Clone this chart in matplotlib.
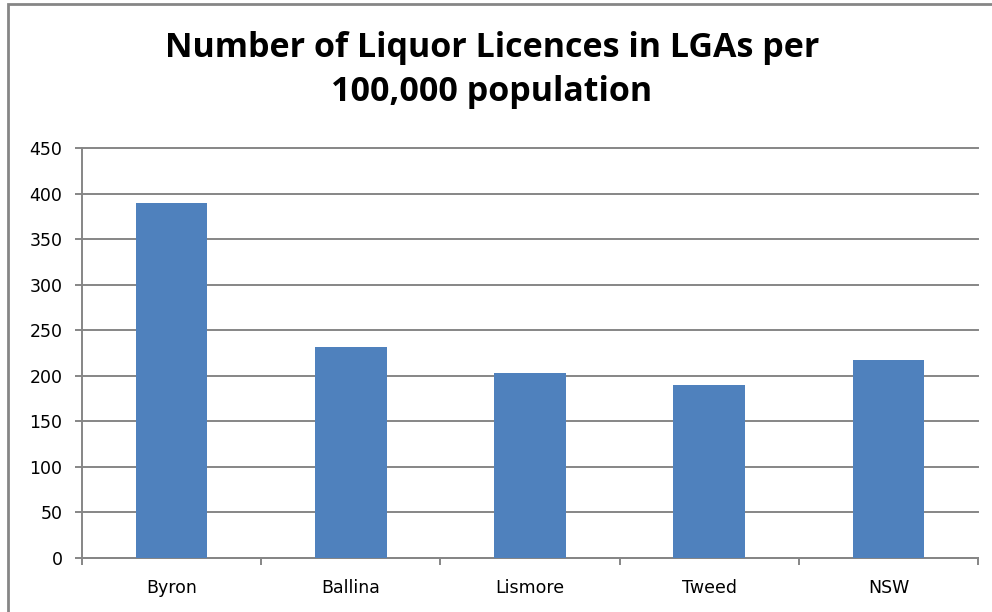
import matplotlib
matplotlib.use("Agg")
import matplotlib.pyplot as plt
from matplotlib.patches import Rectangle

# licences per 100,000 population by LGA
areas = ["Byron", "Ballina", "Lismore", "Tweed", "NSW"]
licences = [390, 232, 203, 190, 217]
yticks = [0, 50, 100, 150, 200, 250, 300, 350, 400, 450]

W, H = 992, 612
fig = plt.figure(figsize=(W / 100, H / 100), dpi=100)
ax = fig.add_axes([82 / W, 1 - 558 / H, (978 - 82) / W, (558 - 148) / H])

grey = "#868686"
pos = range(len(areas))
ax.bar(pos, licences, width=0.4, color="#4F81BD", zorder=3)

ax.set_xlim(-0.5, len(areas) - 0.5)
ax.set_ylim(0, 450)
ax.set_yticks(yticks)
ax.yaxis.grid(True, color=grey, linewidth=1.4, zorder=0)
for gl in ax.get_ygridlines():
    gl.set_clip_on(False)

# category labels in the middle, tick marks on the boundaries
ax.set_xticks(list(pos))
ax.set_xticklabels(areas)
ax.set_xticks([i - 0.5 for i in range(len(areas) + 1)], minor=True)
ax.tick_params(axis="x", which="major", length=0, pad=15, labelsize=12.5)
ax.tick_params(axis="x", which="minor", length=5, width=1.4, color=grey, direction="out")
ax.tick_params(axis="y", length=5, width=1.4, color=grey, pad=9, labelsize=12.5)

for side in ["top", "right"]:
    ax.spines[side].set_visible(False)
for side in ["left", "bottom"]:
    ax.spines[side].set_color(grey)
    ax.spines[side].set_linewidth(1.4)

fig.text(0.496, 1 - 70 / H, "Number of Liquor Licences in LGAs per\n100,000 population",
         ha="center", va="center", fontsize=24.5, fontweight="bold",
         family="Open Sans", linespacing=1.42)

# outer chart border
fig.patches.append(Rectangle((8 / W, -0.1), 1.2, 1 - 3.5 / H + 0.1,
                             transform=fig.transFigure, fill=False,
                             edgecolor=grey, linewidth=2))

fig.savefig("out.png", dpi=100)
